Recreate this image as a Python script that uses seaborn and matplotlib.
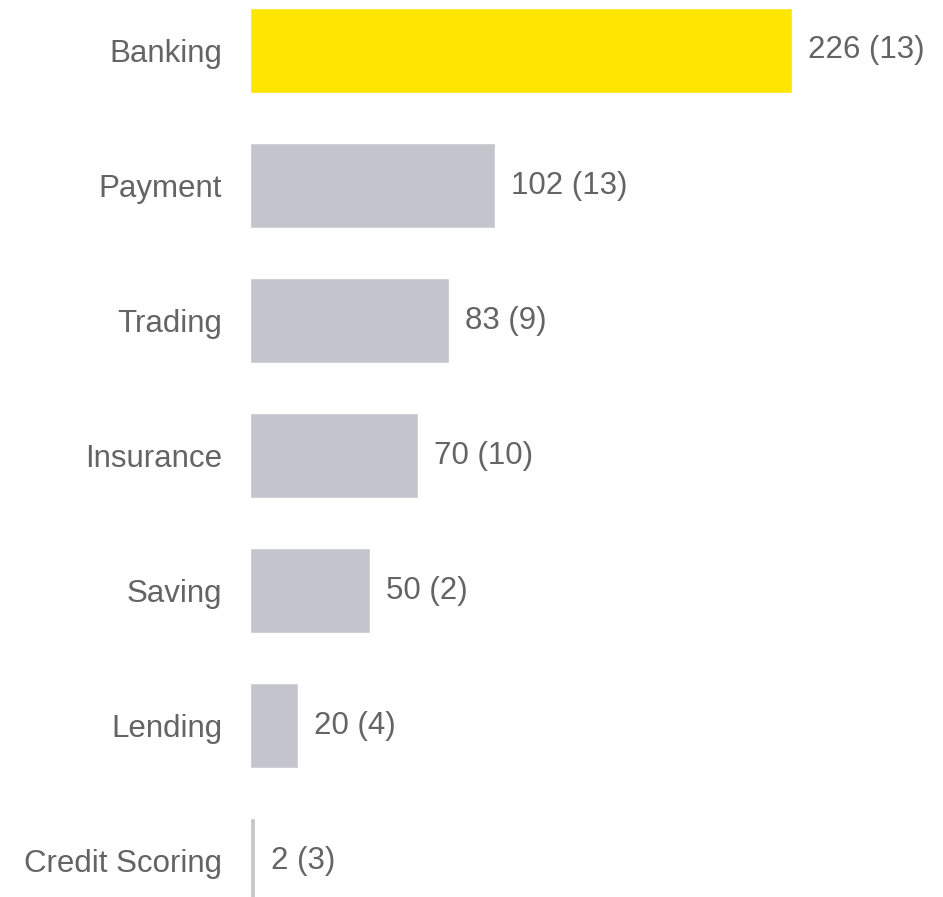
import pandas as pd
import matplotlib.pyplot as plt
import seaborn as sns

categories = ['Banking', 'Payment', 'Trading', 'Insurance', 'Saving', 'Lending', 'Credit Scoring']
values = [226, 102, 83, 70, 50, 20, 2]
counts = [13, 13, 9, 10, 2, 4, 3]
labels = [f'{v} ({c})' for v, c in zip(values, counts)]


def plot_data(data):
    sns.set_style('white')
    plt.rcParams['font.family'] = ['Liberation Sans', 'DejaVu Sans']
    text_color = '#646464'

    fig = plt.figure(figsize=(9.43, 8.97), dpi=100)
    ax = fig.add_axes([250 / 943, 0, 1 - 250 / 943, 1])

    palette = ['#FFE600'] + ['#C4C4CD'] * (len(data) - 1)
    sns.barplot(data=data, x='value', y='category', hue='category', palette=palette,
                orient='h', width=0.63, legend=False, ax=ax, saturation=1)

    # value labels right of each bar
    for i, row in data.iterrows():
        ax.annotate(row['label'], xy=(row['value'], i), xytext=(11.5, 0),
                    textcoords='offset points', va='center', ha='left',
                    fontsize=22.5, color=text_color)

    ax.set_xlim(0, 289)
    ax.set_ylim(6.27, -0.374)
    ax.set_xlabel('')
    ax.set_ylabel('')
    ax.set_xticks([])
    ax.tick_params(axis='y', length=0, pad=20, labelsize=22.5, labelcolor=text_color)
    sns.despine(ax=ax, left=True, bottom=True)

    fig.savefig('out.png', dpi=100)


def main():
    data = pd.DataFrame({'category': categories, 'value': values, 'label': labels})
    plot_data(data)


if __name__ == "__main__":
    main()
